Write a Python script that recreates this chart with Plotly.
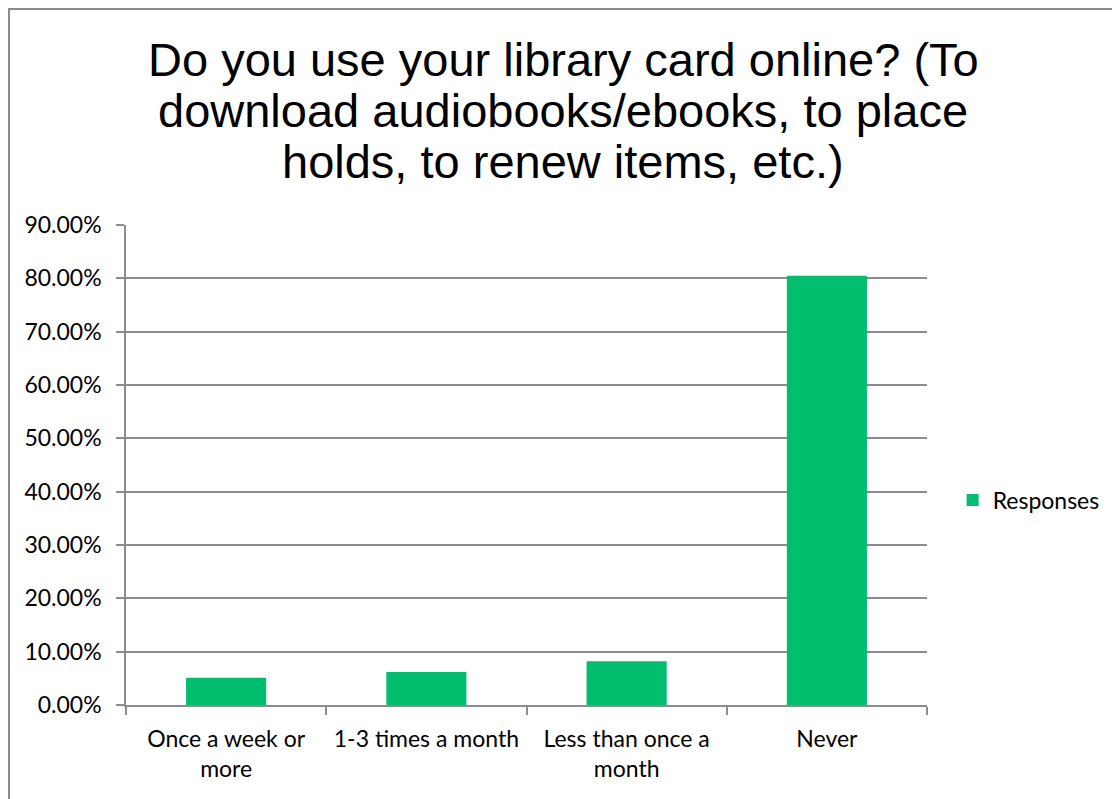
import plotly.graph_objects as go

categories = ["Once a week or<br>more", "1-3 times a month", "Less than once a<br>month", "Never"]
responses = [0.051, 0.062, 0.082, 0.805]
tick_vals = [0, 0.1, 0.2, 0.3, 0.4, 0.5, 0.6, 0.7, 0.8, 0.9]

title_lines = [
    "Do you use your library card online? (To",
    "download audiobooks/ebooks, to place",
    "holds, to renew items, etc.)",
]
title_line_y = [51, 103, 154]  # line centres, px from top of figure

GREEN = "#00BE6E"
GRID = "#8C8C8C"

# page body adds 8px margin, so the figure is a bit smaller than the window
W, H = 1112, 791
L, R, T, B = 118, 193, 217, 94
plot_w = W - L - R
plot_h = H - T - B

fig = go.Figure()
fig.add_trace(go.Bar(
    x=categories,
    y=responses,
    name="Responses",
    marker=dict(color=GREEN, line=dict(width=0)),
    showlegend=True,
))

for line, yc in zip(title_lines, title_line_y):
    fig.add_annotation(
        text=line,
        xref="paper", yref="paper",
        x=(555 - L) / plot_w, y=1 + (T - yc) / plot_h,
        xanchor="center", yanchor="middle",
        showarrow=False,
        font=dict(family="Liberation Sans, Arial, sans-serif", size=47, color="black"),
    )

fig.update_layout(
    width=W,
    height=H,
    paper_bgcolor="white",
    plot_bgcolor="white",
    margin=dict(l=L, r=R, t=T, b=B),
    bargap=0.6,
    font=dict(family="Lato, Open Sans, sans-serif", size=23, color="black"),
    legend=dict(
        x=1.032, y=0.427, xanchor="left", yanchor="middle",
        font=dict(size=23), itemwidth=30,
    ),
    shapes=[dict(
        type="rect", xref="paper", yref="paper",
        x0=-(L - 1) / plot_w, x1=1.5, y0=-0.5, y1=1 + (T - 1) / plot_h,
        line=dict(color="#8A8A8A", width=2),
    )],
)

fig.update_yaxes(
    range=[0, 0.9],
    tickvals=tick_vals,
    tickformat=".2%",
    showgrid=True, gridcolor=GRID, gridwidth=1.5,
    showline=True, linecolor=GRID, linewidth=1.5,
    ticks="outside", ticklen=8, tickcolor=GRID, tickwidth=1.5,
    ticklabelstandoff=10,
    zeroline=False,
)
fig.update_xaxes(
    showline=True, linecolor=GRID, linewidth=1.5,
    ticks="outside", ticklen=8, tickcolor=GRID, tickwidth=1.5,
    tickson="boundaries",
    ticklabelstandoff=13,
    showgrid=False,
)

fig.write_html("out.html")
